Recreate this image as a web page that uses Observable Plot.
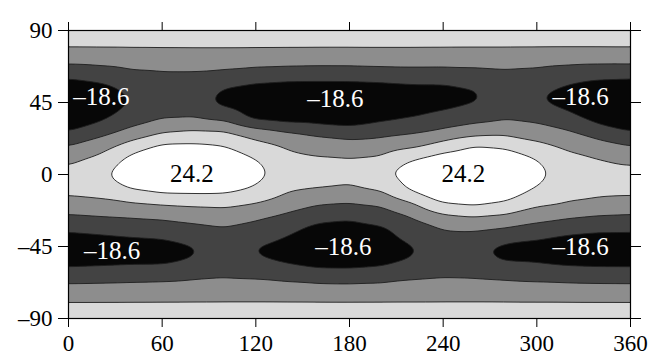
<!DOCTYPE html>
<html><head><meta charset="utf-8">
<script src="https://cdn.jsdelivr.net/npm/d3@7"></script>
<script src="https://cdn.jsdelivr.net/npm/@observablehq/plot@0.6"></script>
<style>body{margin:0;background:#fff;}</style>
</head><body><div id="chart"></div>
<script>
// grid nodes (longitude columns, latitude rows from north to south)
const lons = [0,20,40,60,80,100,120,140,160,180,200,220,240,260,280,300,320,340,360];
const lats = [90,81,72,63,54,45,36,27,18,9,0,-9,-18,-27,-36,-45,-54,-63,-72,-81,-90];
// field values, one array per longitude
const col0   = [9,5.1,-1.25,-9.5,-16.5,-18.2,-16.5,-12.6,-3.9,2.6,6.6,6.2,1.6,-5.7,-12,-17.8,-15,-7.9,-1.2,4.9,9];
const col20  = [9,5.1,-0.95,-7.9,-14.5,-17,-14.5,-7.3,0.7,6.3,10.8,7.3,2.4,-4.7,-11,-16.7,-14.5,-7.5,-1.1,4.9,9];
const col40  = [9,5.1,-0.5,-5.4,-10.3,-11.9,-8,-2.4,7.6,15,17.5,12.5,3.4,-4,-10,-15.6,-14,-7,-0.9,4.9,9];
const col60  = [9,5.1,-0.2,-4.8,-7.8,-8.8,-4.9,2.7,13.5,19.5,21.5,15,4.8,-3.2,-9.2,-15,-14,-6.6,-0.7,4.9,9];
const col80  = [9,5.1,0.0,-4.8,-8.3,-9,-4.4,4.6,13.5,20,22.5,15,5.8,-2,-7,-12.8,-11.8,-5.4,-0.5,4.9,9];
const col100 = [9,5.1,0.0,-5.6,-12.5,-14.5,-7.1,4.4,12,17.5,20.5,14.5,6.3,-1,-5.5,-8.7,-7.8,-4.8,-0.3,4.9,9];
const col120 = [9,5.1,-0.3,-7.1,-14.5,-17,-15.5,-0.6,6.9,12.5,14.5,11,4,-3.2,-7.4,-12.5,-11.3,-5.2,-0.3,4.9,9];
const col140 = [9,5.1,-0.5,-7.8,-15.5,-18.6,-17,-4,3.2,6.5,8.6,5.4,0,-6.1,-10.9,-14.7,-13.5,-6.7,-0.5,4.9,9];
const col160 = [9,5.1,-0.7,-8.1,-15.5,-18.6,-17,-6.7,0.7,5.3,7.6,4,-3.2,-9.8,-15.5,-18.6,-15.5,-8.3,-0.7,4.9,9];
const col180 = [9,5.1,-0.7,-8,-15.5,-18.6,-17.5,-8.6,-0.7,4.9,7.1,2.5,-4,-11.2,-16,-18.6,-15.5,-8.7,-0.8,4.9,9];
const col200 = [9,5.1,-0.5,-7.4,-15,-18,-14.6,-6.9,-0.2,5.8,11,5.2,-2.7,-8.8,-14.5,-17,-14.5,-7.8,-0.7,4.9,9];
const col220 = [9,5.1,-0.5,-6.9,-14,-17,-12.3,-5.3,2.2,12.5,16,14,3.2,-4.4,-8,-12.8,-11.8,-5.5,-0.5,4.9,9];
const col240 = [9,5.1,-0.7,-6.9,-14,-15,-9.5,-3.0,7.5,16.5,22,18,12.5,1.2,-5,-8.8,-8,-4.8,-0.3,4.9,9];
const col260 = [9,5.1,-0.95,-6.2,-12.3,-12.8,-7,-0.3,12.3,18.5,24.2,19.5,14,3.2,-4.5,-10.8,-9.5,-5,-0.3,4.9,9];
const col280 = [9,5.1,-0.95,-5.25,-8.3,-8.7,-5.1,1,11,16.5,21.5,17,11.5,1.8,-6.4,-14,-12.8,-5.8,-0.5,4.9,9];
const col300 = [9,5.1,-1.2,-5.9,-10.5,-11.6,-6.3,-0.8,6.2,12.5,14.5,11.5,5.8,-1.3,-8.8,-14.7,-13.2,-6.7,-0.7,4.9,9];
const col320 = [9,5.1,-1.5,-7.7,-13.5,-14.8,-9.9,-3.6,2.9,6.0,8.5,6.8,4,-3.6,-10.8,-16.7,-14.5,-7.4,-0.9,4.9,9];
const col340 = [9,5.1,-1.5,-9.05,-16,-18,-15.5,-8.6,-0.7,4.5,6.9,6.3,2.3,-5.1,-12,-17.4,-15,-7.8,-1.1,4.9,9];
const col360 = col0;

const thresholds = [-100, -12, -4, 4, 12];
const bandColors = ["#070707", "#434343", "#8d8d8d", "#d9d9d9", "#ffffff"];
const xTicks = [0, 60, 120, 180, 240, 300, 360];
const yTicks = [-90, -45, 0, 45, 90];

const lowText = ["–18.6", "–18.6", "–18.6", "–18.6", "–18.6", "–18.6"];
const lowLon  = [21, 171, 328, 28, 176, 328];
const lowLat  = [48.5, 47, 48.5, -48, -45, -45];
const highText = ["24.2", "24.2"];
const highLon  = [79, 253];
const highLat  = [0.5, 0.5];

const columns = [col0,col20,col40,col60,col80,col100,col120,col140,col160,col180,col200,col220,col240,col260,col280,col300,col320,col340,col360];
const grid = [];
lons.forEach((lon, i) => lats.forEach((lat, j) => grid.push({lon, lat, v: columns[i][j]})));

const fmt = d => d < 0 ? "–" + Math.abs(d) : String(d);
const serif = "'Liberation Serif', 'DejaVu Serif', serif";

const chart = Plot.plot({
  width: 652, height: 356,
  marginLeft: 68, marginRight: 22, marginTop: 30, marginBottom: 38,
  style: {fontFamily: serif, fontSize: "23px", color: "black", background: "white"},
  x: {domain: [0, 360]},
  y: {domain: [-90, 90]},
  color: {type: "threshold", domain: [-12, -4, 4, 12], range: bandColors},
  marks: [
    Plot.frame({fill: bandColors[0]}),
    Plot.contour(grid, {x: "lon", y: "lat", fill: "v", thresholds, interpolate: "barycentric",
      blur: 5, pixelSize: 1, stroke: "#1e1e1e", strokeWidth: 0.9}),
    Plot.text(lowText, {x: (d, i) => lowLon[i], y: (d, i) => lowLat[i], text: d => d,
      fill: "white", fontSize: 25, fontFamily: serif}),
    Plot.text(highText, {x: (d, i) => highLon[i], y: (d, i) => highLat[i], text: d => d,
      fill: "black", fontSize: 25, fontFamily: serif}),
    Plot.frame({stroke: "black", strokeWidth: 1.2}),
    Plot.axisX({anchor: "bottom", ticks: xTicks, tickSize: 9, tickPadding: 7, tickFormat: fmt, label: null}),
    Plot.axisX({anchor: "top", ticks: xTicks, tickSize: 9, tickFormat: () => "", label: null}),
    Plot.axisY({anchor: "left", ticks: yTicks, tickSize: 10, tickPadding: 6, tickFormat: fmt, label: null}),
    Plot.axisY({anchor: "right", ticks: yTicks, tickSize: 10, tickFormat: () => "", label: null})
  ]
});
document.getElementById("chart").append(chart);
</script>
</body></html>
